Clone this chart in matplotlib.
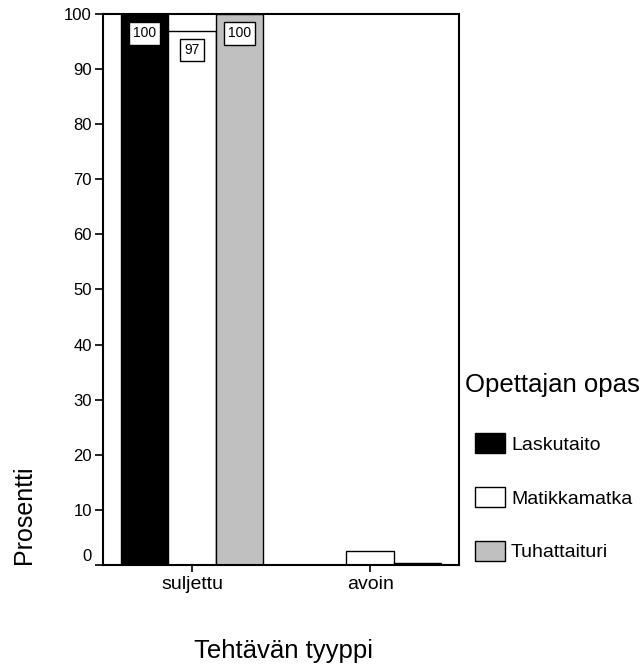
import numpy as np
import matplotlib
matplotlib.use("Agg")
import matplotlib.pyplot as plt
from matplotlib.patches import Patch
import matplotlib.transforms as mtransforms

plt.rcParams['font.family'] = ['Liberation Sans', 'DejaVu Sans']

# データ
categories = ["suljettu", "avoin"]
series = ["Laskutaito", "Matikkamatka", "Tuhattaituri"]
laskutaito = [100, 0]
matikkamatka = [97, 2.5]
tuhattaituri = [100, 0.3]
value_labels = [["100", None], ["97", None], ["100", None]]
colors = ["black", "white", "#c0c0c0"]
yticks = [0, 10, 20, 30, 40, 50, 60, 70, 80, 90, 100]

fig = plt.figure(figsize=(6.41, 6.66), dpi=100)
ax = fig.add_axes([0.1607, 0.1517, 0.7163 - 0.1607, 0.979 - 0.1517])

x = np.arange(len(categories))
w = 0.8 / 3
data = [laskutaito, matikkamatka, tuhattaituri]
for i, (vals, c) in enumerate(zip(data, colors)):
    pos = x + (i - 1) * w
    ax.bar(pos, vals, width=w, color=c, edgecolor="black", linewidth=1.0)
    for p, v, lab in zip(pos, vals, value_labels[i]):
        if lab is None:
            continue
        ax.annotate(lab, (p, v), xytext=(0, -14), textcoords="offset points",
                    ha="center", va="center", fontsize=10,
                    bbox=dict(boxstyle="square,pad=0.3", fc="white", ec="black", lw=1.0))

ax.set_xlim(-0.5, 1.5)
ax.set_ylim(0, 100)
ax.set_yticks(yticks)
ax.set_xticks(x)
ax.set_xticklabels(categories, fontsize=14)
ax.tick_params(axis="y", labelsize=12, direction="out", length=6, width=1.2, pad=2)
ax.tick_params(axis="x", direction="out", length=5, width=1.2, pad=3)
for s in ax.spines.values():
    s.set_linewidth(1.5)

# 0 のラベルを少し上にずらす
lab0 = ax.get_yticklabels()[0]
lab0.set_transform(lab0.get_transform() + mtransforms.ScaledTranslation(0, 10 / 100, fig.dpi_scale_trans))

fig.text(24 / 641, 1 - 515 / 666, "Prosentti", rotation=90, ha="center", va="center", fontsize=18)
fig.text(283 / 641, 1 - 651 / 666, "Tehtävän tyyppi", ha="center", va="center", fontsize=18.5)

# 凡例
fig.text(465 / 641, 1 - 385 / 666, "Opettajan opas", ha="left", va="center", fontsize=18.5)
handles = [Patch(facecolor=c, edgecolor="black", linewidth=1.0) for c in colors]
fig.legend(handles, series, loc="upper left", bbox_to_anchor=(475 / 641, 1 - 433 / 666),
           frameon=False, fontsize=14, handlelength=1.55, handleheight=1.2,
           handletextpad=0.3, labelspacing=1.72, borderpad=0, borderaxespad=0)

fig.savefig("out.png", dpi=100)
